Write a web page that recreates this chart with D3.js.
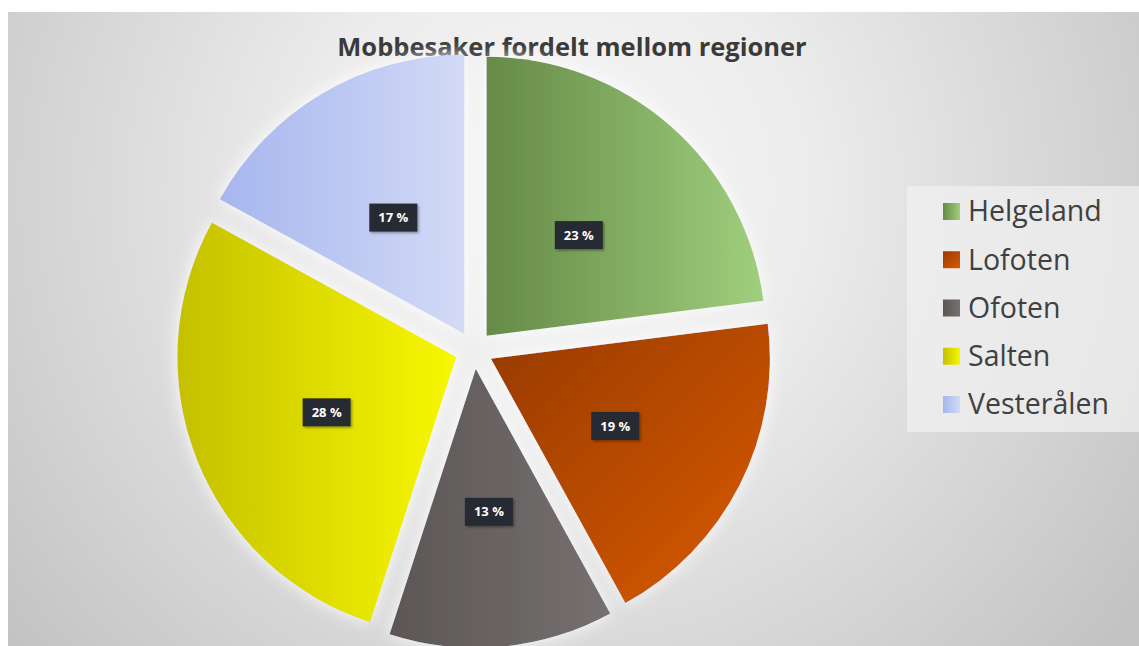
<!DOCTYPE html>
<html lang="no">
<head>
<meta charset="UTF-8">
<title>Mobbesaker fordelt mellom regioner</title>
<script src="https://d3js.org/d3.v7.min.js"></script>
<style>
  body { margin: 0; background: #fff; }
  svg { display: block; }
</style>
</head>
<body>
<script>
    // data
    const regions = ["Helgeland", "Lofoten", "Ofoten", "Salten", "Vesterålen"];
    const shares = [23, 19, 13, 28, 17];
    const colorsDark = ["#668a48", "#973a00", "#5c5656", "#c4c000", "#a6b6ee"];
    const colorsLight = ["#9fcf7c", "#d95b00", "#767070", "#f8f800", "#d3daf6"];

    const width = 1139, height = 646;
    const cx = 474, cy = 350, radius = 279, explode = 19;

    const svg = d3.select("body").append("svg")
        .attr("width", width)
        .attr("height", height);

    const defs = svg.append("defs");

    const bg = defs.append("radialGradient")
        .attr("id", "bg")
        .attr("gradientUnits", "userSpaceOnUse")
        .attr("cx", 560).attr("cy", 190).attr("r", 720);
    bg.append("stop").attr("offset", "0%").attr("stop-color", "#f7f7f7");
    bg.append("stop").attr("offset", "35%").attr("stop-color", "#ececec");
    bg.append("stop").attr("offset", "100%").attr("stop-color", "#c2c2c2");

    regions.forEach((r, i) => {
        const g = defs.append("linearGradient")
            .attr("id", "grad" + i)
            .attr("x1", 0).attr("y1", 0)
            .attr("x2", 1).attr("y2", i === 1 ? 1 : 0);
        g.append("stop").attr("offset", "0%").attr("stop-color", colorsDark[i]);
        g.append("stop").attr("offset", "100%").attr("stop-color", colorsLight[i]);
    });

    const glow = defs.append("filter").attr("id", "glow")
        .attr("x", "-20%").attr("y", "-20%").attr("width", "140%").attr("height", "140%");
    glow.append("feDropShadow")
        .attr("dx", 0).attr("dy", 0)
        .attr("stdDeviation", 8)
        .attr("flood-color", "#ffffff")
        .attr("flood-opacity", 0.95);

    const labelShadow = defs.append("filter").attr("id", "lshadow")
        .attr("x", "-30%").attr("y", "-30%").attr("width", "160%").attr("height", "160%");
    labelShadow.append("feDropShadow")
        .attr("dx", 1.5).attr("dy", 1.5)
        .attr("stdDeviation", 1.2)
        .attr("flood-color", "#000")
        .attr("flood-opacity", 0.35);

    // background, leaving the white strip at top and left
    svg.append("rect")
        .attr("x", 8).attr("y", 12)
        .attr("width", width - 8).attr("height", height - 12)
        .attr("fill", "url(#bg)");

    svg.append("text")
        .attr("x", 572).attr("y", 56)
        .attr("text-anchor", "middle")
        .attr("font-family", "Open Sans, sans-serif")
        .attr("font-weight", "bold")
        .attr("font-size", 25.5)
        .attr("fill", "#3a3a3a")
        .text("Mobbesaker fordelt mellom regioner");

    const pie = d3.pie().sort(null).value(d => d)(shares);
    const arc = d3.arc().innerRadius(0).outerRadius(radius);

    const slices = svg.append("g")
        .attr("transform", `translate(${cx},${cy})`)
        .selectAll("g")
        .data(pie)
        .join("g")
        .attr("transform", d => {
            const a = (d.startAngle + d.endAngle) / 2;
            return `translate(${explode * Math.sin(a)},${-explode * Math.cos(a)})`;
        });

    slices.append("path")
        .attr("d", arc)
        .attr("fill", (d, i) => `url(#grad${i})`)
        .attr("filter", "url(#glow)");

    const lab = slices.append("g")
        .attr("transform", d => {
            const [x, y] = arc.centroid(d);
            return `translate(${x},${y + 4})`;
        });

    lab.append("rect")
        .attr("x", -24).attr("y", -14)
        .attr("width", 48).attr("height", 28)
        .attr("fill", "#262a31")
        .attr("filter", "url(#lshadow)");

    lab.append("text")
        .attr("text-anchor", "middle")
        .attr("dy", "0.36em")
        .attr("font-family", "Open Sans, sans-serif")
        .attr("font-weight", "bold")
        .attr("font-size", 13)
        .attr("fill", "#ffffff")
        .text(d => d.data + " %");

    // legend
    const legend = svg.append("g");
    legend.append("rect")
        .attr("x", 907).attr("y", 186)
        .attr("width", width - 907).attr("height", 246)
        .attr("fill", "#f0f0f0")
        .attr("opacity", 0.75);

    const rowY = d3.scalePoint().domain(regions).range([211, 404]);

    const item = legend.selectAll("g")
        .data(regions)
        .join("g")
        .attr("transform", d => `translate(943,${rowY(d)})`);

    item.append("rect")
        .attr("x", 0).attr("y", -8)
        .attr("width", 17).attr("height", 17)
        .attr("fill", (d, i) => `url(#grad${i})`);

    item.append("text")
        .attr("x", 25)
        .attr("dy", "0.36em")
        .attr("font-family", "Open Sans, sans-serif")
        .attr("font-size", 28.5)
        .attr("fill", "#404040")
        .text(d => d);
</script>
</body>
</html>
